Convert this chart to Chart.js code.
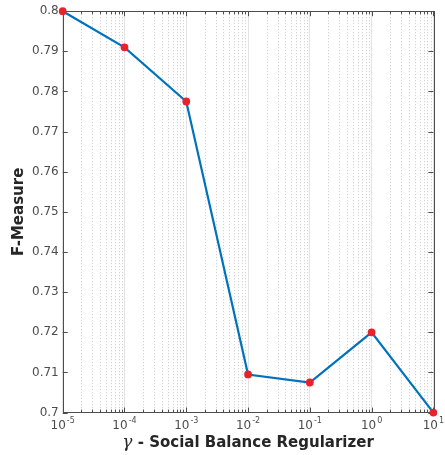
<!DOCTYPE html>
<html>
<head>
<meta charset="utf-8">
<script src="https://cdn.jsdelivr.net/npm/chart.js@4"></script>
<style>
  html, body { margin: 0; padding: 0; background: #fff; }
  #wrap { width: 445px; height: 455px; }
</style>
</head>
<body>
<div id="wrap"><canvas id="fm"></canvas></div>
<script>
var gammas = [1e-5, 1e-4, 1e-3, 1e-2, 1e-1, 1, 10];
var fmeasure = [0.8, 0.791, 0.7775, 0.7095, 0.7075, 0.72, 0.70];
var xTickExps = ['-5', '-4', '-3', '-2', '-1', '0', '1'];
var xTitleSymbol = '\u03B3';
var xTitleText = ' - Social Balance Regularizer';

var axisColor = '#4d4d4d';
var labelFont = 'DejaVu Sans';

// minor dotted grid + inward ticks + box, like matlab
var boxPlugin = {
    id: 'box',
    beforeDatasetsDraw: function(chart) {
        var ctx = chart.ctx, a = chart.chartArea;
        var xs = chart.scales.x, ys = chart.scales.y;
        ctx.save();
        ctx.lineWidth = 1;
        // minor grid
        ctx.strokeStyle = '#c8c8c8';
        ctx.setLineDash([1, 2]);
        for (var e = -5; e < 1; e++) {
            for (var k = 2; k <= 9; k++) {
                var px = Math.round(xs.getPixelForValue(k * Math.pow(10, e))) + 0.5;
                ctx.beginPath();
                ctx.moveTo(px, a.top);
                ctx.lineTo(px, a.bottom);
                ctx.stroke();
            }
        }
        ctx.setLineDash([]);
        // ticks
        ctx.strokeStyle = axisColor;
        for (var e2 = -5; e2 <= 1; e2++) {
            for (var k2 = 1; k2 <= 9; k2++) {
                var v = k2 * Math.pow(10, e2);
                if (v > 10) break;
                var x = Math.round(xs.getPixelForValue(v)) + 0.5;
                var len = k2 === 1 ? 5 : 3;
                ctx.beginPath();
                ctx.moveTo(x, a.bottom); ctx.lineTo(x, a.bottom - len);
                ctx.moveTo(x, a.top); ctx.lineTo(x, a.top + len);
                ctx.stroke();
            }
        }
        ys.ticks.forEach(function(t) {
            var y = Math.round(ys.getPixelForValue(t.value)) + 0.5;
            ctx.beginPath();
            ctx.moveTo(a.left, y); ctx.lineTo(a.left + 5, y);
            ctx.moveTo(a.right, y); ctx.lineTo(a.right - 5, y);
            ctx.stroke();
        });
        ctx.strokeRect(Math.round(a.left) + 0.5, Math.round(a.top) + 0.5,
            Math.round(a.right - a.left), Math.round(a.bottom - a.top));
        ctx.restore();
    },
    // 10^n labels with a real superscript, and the x title with italic gamma
    afterDraw: function(chart) {
        var ctx = chart.ctx, a = chart.chartArea, xs = chart.scales.x;
        ctx.save();
        ctx.fillStyle = axisColor;
        ctx.textBaseline = 'alphabetic';
        ctx.textAlign = 'left';
        gammas.forEach(function(g, i) {
            var cx = xs.getPixelForValue(g);
            ctx.font = '12px "' + labelFont + '"';
            var wb = ctx.measureText('10').width;
            ctx.font = '8px "' + labelFont + '"';
            var we = ctx.measureText(xTickExps[i]).width;
            var x0 = cx - (wb + we + 1) / 2;
            var base = a.bottom + 16;
            ctx.font = '12px "' + labelFont + '"';
            ctx.fillText('10', x0, base);
            ctx.font = '8px "' + labelFont + '"';
            ctx.fillText(xTickExps[i], x0 + wb + 1, base - 6);
        });

        ctx.fillStyle = '#262626';
        ctx.textBaseline = 'middle';
        var symFont = 'italic 17px "DejaVu Serif"';
        var txtFont = 'bold 15px "' + labelFont + '"';
        ctx.font = symFont;
        var ws = ctx.measureText(xTitleSymbol).width;
        ctx.font = txtFont;
        var wt = ctx.measureText(xTitleText).width;
        var tx = (a.left + a.right) / 2 - (ws + wt) / 2;
        var ty = xs.bottom - 11;
        ctx.font = symFont;
        ctx.fillText(xTitleSymbol, tx, ty);
        ctx.font = txtFont;
        ctx.fillText(xTitleText, tx + ws, ty);
        ctx.restore();
    }
};

new Chart(document.getElementById('fm'), {
    type: 'line',
    data: {
        labels: gammas,
        datasets: [{
            data: gammas.map(function(g, i) { return {x: g, y: fmeasure[i]}; }),
            borderColor: '#0072BD',
            borderWidth: 2.2,
            pointBackgroundColor: '#e8232b',
            pointBorderColor: '#e8232b',
            pointRadius: 2.8,
            tension: 0,
            clip: false
        }]
    },
    options: {
        responsive: true,
        maintainAspectRatio: false,
        animation: false,
        layout: { padding: { top: 9, right: 3, left: 10, bottom: 1 } },
        plugins: { legend: { display: false }, tooltip: { enabled: false } },
        scales: {
            x: {
                type: 'logarithmic',
                min: 1e-5,
                max: 10,
                afterBuildTicks: function(axis) {
                    axis.ticks = gammas.map(function(v) { return {value: v}; });
                },
                grid: { color: '#e3e3e3', drawTicks: false },
                border: { display: false },
                ticks: {
                    autoSkip: false,
                    maxRotation: 0,
                    padding: 4,
                    color: 'rgba(0,0,0,0)',
                    font: { family: labelFont, size: 12 },
                    callback: function() { return '10'; }
                },
                title: {
                    display: true,
                    text: xTitleSymbol + xTitleText,
                    color: 'rgba(0,0,0,0)',
                    font: { family: labelFont, size: 15, weight: 'bold' },
                    padding: { top: 1, bottom: 0 }
                }
            },
            y: {
                min: 0.7,
                max: 0.8,
                grid: { display: false, drawTicks: false },
                border: { display: false },
                ticks: {
                    stepSize: 0.01,
                    padding: 4,
                    color: axisColor,
                    font: { family: labelFont, size: 12 },
                    callback: function(v) { return String(parseFloat(v.toFixed(2))); }
                },
                title: {
                    display: true,
                    text: 'F-Measure',
                    color: '#262626',
                    font: { family: labelFont, size: 15, weight: 'bold' },
                    padding: { top: 0, bottom: 0 }
                }
            }
        }
    },
    plugins: [boxPlugin]
});
</script>
</body>
</html>
